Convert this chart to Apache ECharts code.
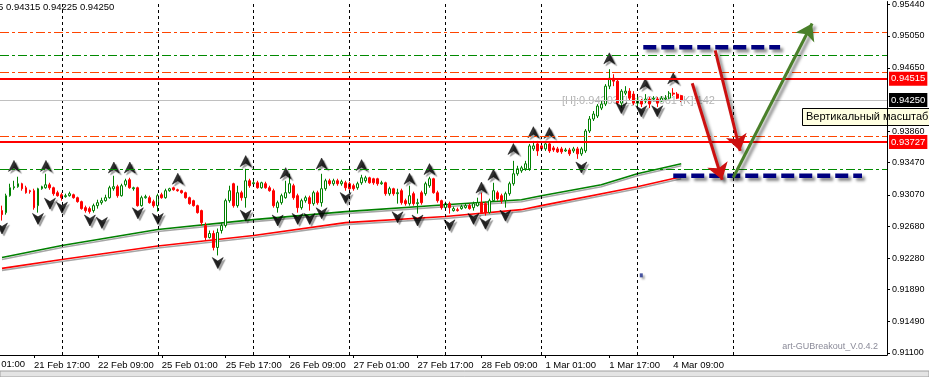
<!DOCTYPE html>
<html><head><meta charset="utf-8">
<script src="https://cdn.jsdelivr.net/npm/echarts@6/dist/echarts.min.js"></script>
<style>html,body{margin:0;padding:0;background:#fff}#c{width:929px;height:377px}</style>
</head><body><div id="c"></div>
<script>
// ---- Data (H1 bars, EURUSD-like quotes) ----
const opens = [
0.92873,0.92848,0.93059,0.93158,0.93171,0.93208,0.93158,0.93121,0.93121,0.92935,
0.93146,0.93158,0.93195,0.93158,0.93096,0.93071,0.93047,0.93059,0.93071,0.93034,
0.92985,0.92910,0.92898,0.92873,0.92935,0.92972,0.92997,0.93034,0.93146,0.93171,
0.93059,0.93195,0.93258,0.93146,0.93158,0.92935,0.93034,0.93034,0.92985,0.92935,
0.93071,0.93034,0.93121,0.93158,0.93133,0.93121,0.93096,0.93034,0.92997,0.92935,
0.92873,0.92687,0.92538,0.92588,0.92414,0.92625,0.92687,0.92997,0.93208,0.92935,
0.93096,0.93034,0.93245,0.93208,0.93220,0.93158,0.93208,0.93158,0.93121,0.92910,
0.92972,0.93034,0.93096,0.93183,0.93059,0.92910,0.92997,0.93034,0.92960,0.93096,
0.92972,0.93146,0.93245,0.93208,0.93245,0.93208,0.93220,0.93208,0.93183,0.93158,
0.93220,0.93245,0.93282,0.93270,0.93270,0.93208,0.93220,0.93084,0.93146,0.93084,
0.93121,0.92997,0.92960,0.93084,0.92960,0.93096,0.93084,0.93183,0.93270,0.93096,
0.92997,0.92910,0.92960,0.92873,0.92885,0.92898,0.92910,0.92935,0.92910,0.92935,
0.92972,0.92960,0.92848,0.92997,0.93096,0.93059,0.92997,0.93084,0.93208,0.93332,
0.93369,0.93394,0.93394,0.93642,0.93704,0.93679,0.93642,0.93704,0.93654,0.93642,
0.93642,0.93617,0.93629,0.93617,0.93642,0.93580,0.93617,0.93865,0.94014,0.94051,
0.94150,0.94200,0.94423,0.94522,0.94485,0.94212,0.94336,0.94361,0.94324,0.94212,
0.94237,0.94237,0.94262,0.94262,0.94262,0.94237,0.94262,0.94274,0.94336,0.94324,
0.94305];
const closes = [
0.92823,0.93059,0.93158,0.93171,0.93208,0.93146,0.93096,0.93109,0.92910,0.93146,
0.93171,0.93195,0.93158,0.93084,0.93059,0.93034,0.93059,0.93084,0.93034,0.92985,
0.92898,0.92873,0.92861,0.92935,0.92972,0.92997,0.93034,0.93158,0.93171,0.93059,
0.93183,0.93245,0.93158,0.93158,0.92935,0.93034,0.93047,0.92972,0.92935,0.93059,
0.93034,0.93121,0.93146,0.93133,0.93121,0.93096,0.93034,0.92960,0.92935,0.92848,
0.92724,0.92538,0.92588,0.92414,0.92600,0.92687,0.92997,0.93121,0.92935,0.93096,
0.93034,0.93245,0.93183,0.93220,0.93158,0.93220,0.93158,0.93121,0.92935,0.92972,
0.93059,0.93096,0.93208,0.93034,0.92910,0.92997,0.93034,0.92960,0.93096,0.92972,
0.93146,0.93245,0.93208,0.93245,0.93208,0.93233,0.93158,0.93146,0.93146,0.93208,
0.93282,0.93282,0.93220,0.93220,0.93208,0.93220,0.93084,0.93146,0.93084,0.93096,
0.92972,0.92960,0.93059,0.92960,0.92972,0.92972,0.93208,0.93270,0.93096,0.92997,
0.92910,0.92960,0.92910,0.92898,0.92873,0.92923,0.92935,0.92898,0.92960,0.92972,
0.92848,0.92848,0.92997,0.93121,0.93022,0.92997,0.93084,0.93208,0.93332,0.93394,
0.93406,0.93456,0.93679,0.93679,0.93617,0.93642,0.93704,0.93617,0.93629,0.93605,
0.93605,0.93629,0.93580,0.93642,0.93580,0.93642,0.93865,0.94014,0.94076,0.94175,
0.94200,0.94423,0.94522,0.94485,0.94212,0.94361,0.94361,0.94274,0.94212,0.94237,
0.94200,0.94262,0.94200,0.94274,0.94212,0.94274,0.94274,0.94336,0.94324,0.94274,
0.94250];
const highs = [
0.92935,0.93084,0.93208,0.93245,0.93295,0.93220,0.93183,0.93133,0.93146,0.93158,
0.93183,0.93332,0.93220,0.93171,0.93121,0.93096,0.93084,0.93109,0.93084,0.93047,
0.92997,0.92935,0.92923,0.92960,0.93009,0.93034,0.93071,0.93183,0.93307,0.93195,
0.93208,0.93270,0.93282,0.93171,0.93171,0.93059,0.93071,0.93059,0.93009,0.93084,
0.93096,0.93146,0.93158,0.93171,0.93146,0.93133,0.93109,0.93047,0.93009,0.92947,
0.92885,0.92724,0.92625,0.92625,0.92650,0.92724,0.93022,0.93183,0.93220,0.93183,
0.93121,0.93394,0.93270,0.93245,0.93245,0.93233,0.93233,0.93183,0.93146,0.92997,
0.93084,0.93245,0.93332,0.93208,0.93084,0.93022,0.93059,0.93059,0.93121,0.93121,
0.93332,0.93270,0.93270,0.93270,0.93270,0.93258,0.93245,0.93233,0.93208,0.93233,
0.93319,0.93307,0.93295,0.93282,0.93282,0.93245,0.93233,0.93171,0.93158,0.93146,
0.93146,0.93022,0.93183,0.93109,0.93022,0.93121,0.93233,0.93295,0.93282,0.93121,
0.93009,0.92985,0.92985,0.92923,0.92910,0.92947,0.92960,0.92960,0.92985,0.93034,
0.93096,0.92985,0.93022,0.93220,0.93121,0.93084,0.93109,0.93233,0.93493,0.93431,
0.93431,0.93493,0.93704,0.93741,0.93741,0.93704,0.93741,0.93729,0.93679,0.93667,
0.93667,0.93654,0.93654,0.93667,0.93667,0.93667,0.93889,0.94051,0.94113,0.94200,
0.94237,0.94448,0.94634,0.94572,0.94510,0.94386,0.94423,0.94398,0.94361,0.94299,
0.94262,0.94324,0.94287,0.94299,0.94287,0.94299,0.94311,0.94361,0.94398,0.94349,
0.94315];
const lows = [
0.92749,0.92823,0.93047,0.93133,0.93158,0.93121,0.93084,0.93084,0.92885,0.92848,
0.93133,0.93146,0.93133,0.93059,0.93047,0.92997,0.93034,0.93047,0.93022,0.92972,
0.92885,0.92848,0.92836,0.92848,0.92898,0.92947,0.92985,0.93022,0.93121,0.93034,
0.93047,0.93171,0.93146,0.93121,0.92923,0.92923,0.93022,0.92960,0.92910,0.92861,
0.93022,0.93022,0.93109,0.93121,0.93109,0.93084,0.93022,0.92947,0.92923,0.92836,
0.92687,0.92501,0.92526,0.92377,0.92315,0.92588,0.92662,0.92972,0.92910,0.92910,
0.92997,0.92910,0.93158,0.93183,0.93146,0.93146,0.93146,0.93109,0.92910,0.92848,
0.92947,0.93022,0.93084,0.93009,0.92848,0.92885,0.92972,0.92873,0.92935,0.92947,
0.92923,0.93121,0.93183,0.93183,0.93183,0.93183,0.93121,0.93133,0.93121,0.93133,
0.93195,0.93220,0.93208,0.93195,0.93183,0.93195,0.93059,0.93059,0.93059,0.92960,
0.92947,0.92935,0.92935,0.92935,0.92836,0.92947,0.93059,0.93158,0.93084,0.92972,
0.92885,0.92885,0.92836,0.92861,0.92861,0.92885,0.92898,0.92885,0.92873,0.92923,
0.92836,0.92811,0.92836,0.92985,0.92997,0.92960,0.92910,0.93059,0.93183,0.93307,
0.93344,0.93369,0.93369,0.93617,0.93555,0.93617,0.93617,0.93592,0.93605,0.93592,
0.93580,0.93605,0.93555,0.93592,0.93518,0.93555,0.93592,0.93840,0.93989,0.94026,
0.94125,0.94175,0.94386,0.94423,0.94187,0.94150,0.94311,0.94249,0.94187,0.94150,
0.94163,0.94212,0.94150,0.94237,0.94163,0.94225,0.94249,0.94262,0.94299,0.94262,
0.94225];

// Time axis labels (one every 16 H1 bars, first at bar 8)
const xTickLabels = ['21 Feb 17:00','22 Feb 09:00','25 Feb 01:00','25 Feb 17:00','26 Feb 09:00',
  '27 Feb 01:00','27 Feb 17:00','28 Feb 09:00','1 Mar 01:00','1 Mar 17:00','4 Mar 09:00'];
const firstLabelBar = 8, barsPerLabel = 16;
const cutLabelLeft = '21 Feb 01:00';
// Price-scale tick labels
const yTicks = [0.95440,0.95050,0.94650,0.93860,0.93470,0.93070,0.92680,0.92280,0.91890,0.91490,0.91100];
// Day separators (bar index of 00:00)
const daySeparatorBars = [15,39,63,87,111,135,159,183];
// Horizontal levels
const orangeLevels = [0.95093,0.94597,0.93803];
const greenLevels = [0.94807,0.93394];
const redLevels = [0.94515,0.93727];
const bidPrice = 0.94250;
// Fractals [bar, price]
const fractalUp = [[3,0.9343],[11,0.9343],[28,0.9341],[32,0.9341],[44,0.9327],[61,0.9349],[71,0.9334],[80,0.9346],
  [90,0.9344],[102,0.9327],[107,0.9339],[120,0.9316],[123,0.9332],[128,0.9364],[133,0.9385],[137,0.9384],
  [152,0.9477],[161,0.9445],[168,0.9452]];
const fractalDown = [[0,0.9265],[9,0.9277],[12,0.9296],[15,0.9291],[22,0.9275],[25,0.9272],[34,0.9284],[39,0.9277],
  [54,0.9222],[61,0.9281],[69,0.9275],[74,0.9277],[77,0.9277],[80,0.9284],[86,0.9303],[99,0.9279],[104,0.9275],
  [112,0.9269],[118,0.9277],[121,0.9271],[126,0.9281],[145,0.9341],[155,0.9415],[160,0.9411],[164,0.9411]];
// Moving averages [bar, value]
const maGreen = [[0,0.92290],[15,0.92439],[39,0.92637],[63,0.92761],[86,0.92861],[111,0.92947],[130,0.93009],
  [135,0.93059],[150,0.93195],[159,0.93332],[170,0.93456]];
const maRed = [[0,0.92154],[15,0.92265],[39,0.92433],[63,0.92563],[86,0.92724],[111,0.92799],[130,0.92885],
  [135,0.92935],[159,0.93171],[170,0.93295]];
// Drawn objects (bar position, price)
const blueSegUpper = [[160.5,0.94907],[194.75,0.94907]];
const blueSegLower = [[168,0.93307],[215.25,0.93307]];
const arrowRed1 = [[178.5,0.94869],[184.75,0.93617]];
const arrowRed2 = [[172.75,0.94460],[180.25,0.93257]];
const arrowGreen = [[183,0.93282],[202.75,0.95204]];
const blueDot = [[160,0.92067]];

// ---- Chart ----
const FONT = '"Liberation Sans", Arial, sans-serif';
const N_SLOTS = 222;
const categories = Array.from({length:N_SLOTS}, (_, i) => 'b' + i);
const labelAt = {};
xTickLabels.forEach((t, k) => { labelAt[firstLabelBar + k * barsPerLabel] = t; });
const candleData = opens.map((o, i) => [o, closes[i], lows[i], highs[i]]);

const tag = (bg) => ({show:true, position:'end', distance:2, formatter:(p)=>Number(p.value).toFixed(5),
  color:'#fff', backgroundColor:bg, padding:[2,2,2,2], fontSize:9.5, fontFamily:FONT});
const mlData = [];
daySeparatorBars.forEach(i => mlData.push({xAxis:i, lineStyle:{color:'#000', width:1, type:[3,3]}, label:{show:false}}));
orangeLevels.forEach(v => mlData.push({yAxis:v, lineStyle:{color:'#FF4500', width:1, type:[9,3,3,3]}, label:{show:false}}));
greenLevels.forEach(v => mlData.push({yAxis:v, lineStyle:{color:'#008a00', width:1, type:[9,3,3,3]}, label:{show:false}}));
mlData.push({yAxis:bidPrice, lineStyle:{color:'#C0C0C0', width:1, type:'solid'}, label:tag('#000')});
redLevels.forEach(v => mlData.push({yAxis:v, lineStyle:{color:'#FF0000', width:2, type:'solid'}, label:tag('#FF0000')}));

const shadow = {shadowColor:'rgba(0,0,0,0.45)', shadowBlur:3, shadowOffsetX:3, shadowOffsetY:3};
const upSym = 'path://M5,0 L10,9 L5,6.2 L0,9 Z';
const dnSym = 'path://M0,0 L5,2.8 L10,0 L5,9 Z';
const fractalStyle = {color:'#000', borderColor:'#000', borderWidth:0.6,
  shadowColor:'rgba(0,0,0,0.45)', shadowBlur:1, shadowOffsetX:2, shadowOffsetY:2};

const option = {
  animation:false,
  backgroundColor:'#fff',
  grid:{left:-1, top:0, width:888, height:355, containLabel:false},
  xAxis:[{
    type:'category', data:categories, boundaryGap:true,
    axisLine:{show:true, onZero:false, lineStyle:{color:'#000', width:1}},
    axisTick:{show:true, alignWithLabel:true, length:3, interval:(i)=>labelAt[i]!==undefined, lineStyle:{color:'#000'}},
    axisLabel:{interval:(i)=>labelAt[i]!==undefined, formatter:(v,i)=>labelAt[i]||'', align:'left', margin:5,
      color:'#000', fontSize:9.5, fontFamily:FONT},
    splitLine:{show:false}
  },{
    type:'value', min:-0.5, max:N_SLOTS-0.5, show:false
  }],
  yAxis:{
    type:'value', position:'right', min:0.91075, max:0.95477, scale:true,
    axisLine:{show:true, onZero:false, lineStyle:{color:'#000', width:1}},
    axisTick:{show:true, length:3, customValues:yTicks, lineStyle:{color:'#000'}},
    axisLabel:{customValues:yTicks, formatter:(v)=>Number(v).toFixed(5), margin:5, color:'#000', fontSize:9, fontFamily:FONT},
    splitLine:{show:false}
  },
  series:[
    {type:'line', xAxisIndex:1, data:maGreen, symbol:'none', z:1,
      lineStyle:{color:'#008000', width:1.6, shadowColor:'rgba(0,0,0,0.35)', shadowOffsetY:2}},
    {type:'line', xAxisIndex:1, data:maRed, symbol:'none', z:1,
      lineStyle:{color:'#FF0000', width:1.6, shadowColor:'rgba(0,0,0,0.35)', shadowOffsetY:2}},
    {type:'candlestick', data:candleData, barWidth:2.4, z:3,
      itemStyle:{color:'#ffffff', color0:'#FF0000', borderColor:'#008000', borderColor0:'#FF0000', borderWidth:1},
      markLine:{silent:true, precision:5, symbol:['none','none'], animation:false, data:mlData}},
    {type:'scatter', data:fractalUp, symbol:upSym, symbolSize:[11,11], z:4, itemStyle:fractalStyle},
    {type:'scatter', data:fractalDown, symbol:dnSym, symbolSize:[11,11], z:4, itemStyle:fractalStyle},
    {type:'line', xAxisIndex:1, data:blueSegUpper, symbol:'none', z:5,
      lineStyle:Object.assign({color:'#000080', width:4.5, type:[13,5]}, shadow)},
    {type:'line', xAxisIndex:1, data:blueSegLower, symbol:'none', z:5,
      lineStyle:Object.assign({color:'#000080', width:4.5, type:[13,5]}, shadow)},
    {type:'lines', coordinateSystem:'cartesian2d', xAxisIndex:1, yAxisIndex:0, z:6,
      symbol:['none','arrow'], symbolSize:16,
      lineStyle:Object.assign({width:3, opacity:1}, shadow),
      data:[
        {coords:arrowRed1, lineStyle:{color:'#CC1010'}},
        {coords:arrowRed2, lineStyle:{color:'#CC1010'}},
        {coords:arrowGreen, lineStyle:{color:'#4A7F2A'}}
      ]},
    {type:'scatter', xAxisIndex:1, data:blueDot, symbol:'rect', symbolSize:[3,4], z:5,
      itemStyle:{color:'#1a2a8a', shadowColor:'rgba(0,0,0,0.4)', shadowBlur:2, shadowOffsetX:2, shadowOffsetY:2}}
  ],
  graphic:[
    {type:'text', left:-31, top:2, z:10, style:{text:'0.94305 0.94315 0.94225 0.94250', fill:'#000', font:'9.5px ' + FONT}},
    {type:'text', x:25, y:359, z:10, style:{text:cutLabelLeft, fill:'#000', font:'9.5px ' + FONT, textAlign:'right'}},
    {type:'text', x:562, y:95, z:0, style:{text:'[H]:0.94203 [L]:0.94061 [K]:142', fill:'#B4B4B4', font:'11px ' + FONT}},
    {type:'text', x:878, y:342, z:10, style:{text:'art-GUBreakout_V.0.4.2', fill:'#8A8A98', font:'9px ' + FONT, textAlign:'right'}},
    {type:'rect', z:10, shape:{x:0, y:371, width:929, height:6}, style:{fill:'#E4E4E4', stroke:'#A0A0A0', lineWidth:1}},
    {type:'group', x:802, y:108, z:50, zlevel:1, children:[
      {type:'rect', shape:{x:0.5, y:0.5, width:140, height:17}, style:{fill:'#FFFFE1', stroke:'#000', lineWidth:1}},
      {type:'text', x:4, y:3, style:{text:'Вертикальный масштаб', fill:'#000', font:'11px ' + FONT}}
    ]}
  ]
};
const chart = echarts.init(document.getElementById('c'));
chart.setOption(option);
</script></body></html>
